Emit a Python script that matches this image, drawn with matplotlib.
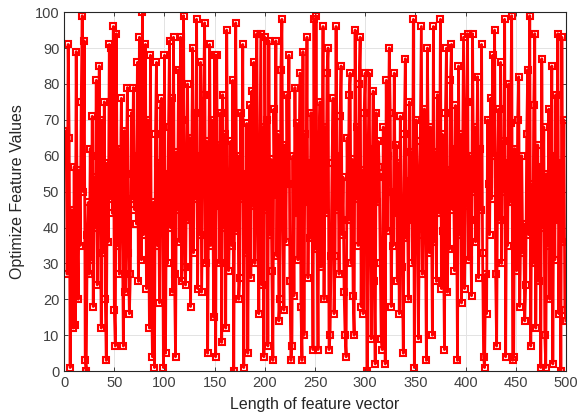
import numpy as np
import matplotlib
matplotlib.use("Agg")
import matplotlib.pyplot as plt

plt.rcParams['font.family'] = ['Liberation Sans', 'DejaVu Sans']

# Wartosci (punkty 1..500), po 50 w bloku
vals_001_050 = [66, 67, 27, 91, 65, 1, 45, 30, 12, 57,
                13, 89, 40, 20, 56, 35, 75, 99, 50, 92,
                3, 0, 38, 47, 27, 62, 31, 71, 18, 54,
                40, 81, 24, 60, 85, 44, 12, 70, 33, 75,
                20, 3, 58, 36, 91, 48, 90, 44, 96, 17]
vals_051_100 = [7, 94, 35, 62, 27, 50, 76, 40, 7, 67,
                22, 55, 79, 33, 16, 27, 72, 48, 79, 45,
                60, 41, 86, 25, 93, 52, 31, 100, 38, 63,
                91, 23, 70, 47, 12, 88, 25, 4, 47, 1,
                66, 86, 35, 58, 19, 74, 76, 42, 1, 88]
vals_101_150 = [5, 55, 30, 68, 92, 40, 76, 22, 93, 27,
                4, 61, 45, 84, 36, 93, 25, 70, 99, 29,
                24, 57, 80, 42, 65, 18, 53, 90, 33, 72,
                48, 98, 23, 60, 38, 86, 22, 51, 77, 97,
                30, 64, 5, 46, 91, 35, 70, 55, 15, 88]
vals_151_200 = [4, 88, 46, 63, 30, 72, 8, 77, 40, 66,
                12, 95, 50, 28, 44, 64, 35, 81, 0, 58,
                97, 39, 60, 20, 26, 72, 48, 91, 1, 55,
                33, 69, 5, 52, 74, 26, 78, 46, 86, 30,
                62, 94, 40, 16, 57, 94, 24, 68, 4, 93]
vals_201_250 = [45, 70, 7, 92, 38, 59, 28, 3, 73, 49,
                92, 32, 66, 14, 20, 84, 98, 41, 17, 63,
                36, 77, 52, 88, 25, 3, 7, 60, 21, 79,
                44, 69, 31, 56, 83, 18, 3, 89, 10, 66,
                47, 93, 26, 58, 37, 72, 50, 6, 98, 34]
vals_251_300 = [99, 40, 6, 63, 75, 29, 52, 96, 20, 68,
                44, 83, 90, 6, 10, 32, 58, 76, 16, 32,
                96, 45, 60, 27, 71, 85, 38, 54, 22, 10,
                4, 65, 42, 77, 83, 30, 59, 21, 10, 95,
                48, 68, 35, 80, 93, 18, 56, 16, 72, 83]
vals_301_350 = [40, 0, 62, 83, 36, 9, 55, 78, 25, 2,
                72, 47, 64, 57, 30, 9, 6, 68, 54, 2,
                81, 39, 60, 90, 72, 18, 50, 35, 83, 44,
                63, 25, 58, 16, 71, 48, 29, 5, 66, 87,
                37, 53, 20, 75, 42, 61, 30, 98, 1, 45]
vals_351_400 = [70, 56, 9, 38, 64, 96, 27, 50, 73, 41,
                3, 90, 58, 33, 68, 47, 10, 96, 36, 61,
                25, 77, 52, 44, 98, 23, 66, 39, 6, 72,
                90, 22, 56, 34, 81, 91, 45, 62, 28, 74,
                50, 3, 85, 38, 66, 19, 58, 93, 23, 46]
vals_401_450 = [75, 94, 31, 60, 42, 21, 94, 50, 68, 36,
                57, 82, 26, 62, 45, 91, 33, 4, 1, 27,
                16, 70, 52, 38, 76, 48, 88, 60, 95, 27,
                7, 55, 73, 42, 86, 30, 64, 50, 98, 4,
                58, 35, 80, 47, 69, 99, 3, 4, 62, 45]
vals_451_500 = [28, 70, 82, 18, 40, 60, 33, 41, 14, 24,
                66, 84, 38, 99, 7, 52, 30, 74, 94, 12,
                45, 63, 25, 57, 1, 87, 40, 68, 10, 1,
                55, 35, 73, 20, 48, 85, 2, 60, 31, 77,
                42, 94, 16, 58, 0, 93, 36, 70, 17, 14]

y = np.array(vals_001_050 + vals_051_100 + vals_101_150 + vals_151_200 +
             vals_201_250 + vals_251_300 + vals_301_350 + vals_351_400 +
             vals_401_450 + vals_451_500, dtype=float)
x = np.arange(1, len(y) + 1)

fig = plt.figure(figsize=(5.78, 4.18), dpi=100)
ax = fig.add_axes([0.111, 0.112, 0.868, 0.859])

ax.plot(x, y, color='#ff0000', linewidth=2, marker='s', markersize=5,
        markerfacecolor='none', markeredgecolor='#ff0000', markeredgewidth=1.5)

ax.set_xlim(0, 500)
ax.set_ylim(0, 100)
ax.set_xticks(np.arange(0, 501, 50))
ax.set_yticks(np.arange(0, 101, 10))
ax.grid(True, color='#e3e3e3', linewidth=0.7)
ax.set_axisbelow(True)

for s in ax.spines.values():
    s.set_color('#262626')
    s.set_linewidth(0.8)
ax.tick_params(direction='in', length=3, width=0.6, colors='#262626',
               labelcolor='#404040', labelsize=10.5, top=True, right=True)

ax.set_xlabel('Length of feature vector', fontsize=11.5, color='#262626', labelpad=5)
ax.set_ylabel('Optimize Feature Values', fontsize=11.5, color='#262626', labelpad=7)

fig.savefig('out.png', dpi=100)
